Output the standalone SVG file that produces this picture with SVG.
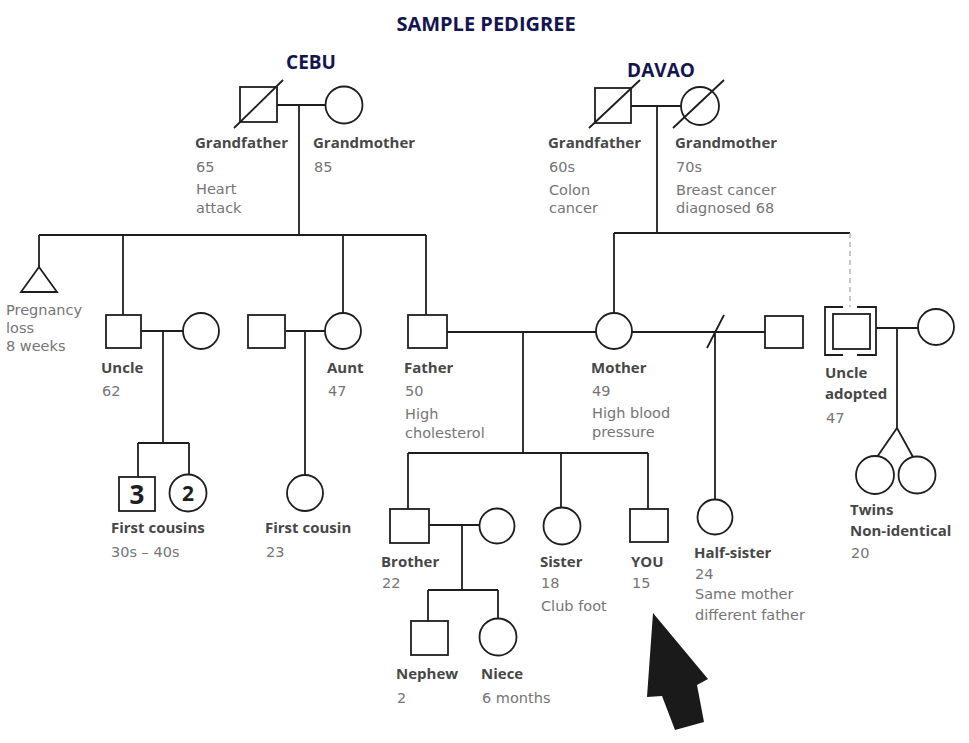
<svg xmlns="http://www.w3.org/2000/svg" width="969" height="743" viewBox="0 0 969 743">
<style>
.bg{fill:#ffffff}
.ln{fill:none;stroke:#1e1e1e;stroke-width:1.8}
.sh{fill:#ffffff;stroke:#1e1e1e;stroke-width:1.8}
.dash{fill:none;stroke:#b5b5b5;stroke-width:1.5;stroke-dasharray:5 4}
.ttl{font-family:"Open Sans","Liberation Sans",sans-serif;font-weight:700;fill:#141450;text-anchor:middle}
.lb{font-family:"Open Sans","Liberation Sans",sans-serif;font-weight:700;font-size:15px;fill:#474747}
.tx{font-family:"DejaVu Sans","Liberation Sans",sans-serif;font-size:14.5px;fill:#757575}
.num{font-family:"Open Sans","Liberation Sans",sans-serif;font-weight:700;fill:#1e1e1e;text-anchor:middle}
</style>
<rect class="bg" x="0" y="0" width="969" height="743"/>
<text class="ttl" x="486" y="31" font-size="20">SAMPLE PEDIGREE</text>
<text class="ttl" x="311" y="69" font-size="19">CEBU</text>
<text class="ttl" x="661" y="77" font-size="19">DAVAO</text>

<g id="connectors">
<path class="ln" d="M277 105H325M299 105V235M39 235H426M39 235V267M123 235V315M343 235V313M426 235V315"/>
<path class="ln" d="M141 331H183M163 331V443M138 443H189M138 443V477M189 443V475"/>
<path class="ln" d="M286 331H325M305 331V475"/>
<path class="ln" d="M631 106H681M657 106V233M614 233H850M614 233V313"/>
<path class="dash" d="M850 233V307"/>
<path class="ln" d="M447 332H596M523 332V453M408 453H648M408 453V509M561 453V508M648 453V509"/>
<path class="ln" d="M632 332H765M707 348L724 315M715 332V499"/>
<path class="ln" d="M876 328H918M897 328V428M877 457L897 428L913 457"/>
<path class="ln" d="M429 525H480M462 525V590M428 590H498M428 590V621M498 590V619"/>
</g>

<g id="cebu-grandfather">
<rect class="sh" x="240" y="87" width="37" height="35"/>
<path class="ln" d="M234 128L283 80"/>
<text class="lb" x="195" y="148">Grandfather</text>
<text class="tx" x="196" y="172">65</text>
<text class="tx" x="196" y="194">Heart</text>
<text class="tx" x="196" y="213">attack</text>
</g>
<g id="cebu-grandmother">
<circle class="sh" cx="344" cy="105" r="18.5"/>
<text class="lb" x="313" y="148">Grandmother</text>
<text class="tx" x="314" y="172">85</text>
</g>
<g id="davao-grandfather">
<rect class="sh" x="595" y="88" width="36" height="35"/>
<path class="ln" d="M589 128L640 80"/>
<text class="lb" x="548" y="148">Grandfather</text>
<text class="tx" x="549" y="172">60s</text>
<text class="tx" x="549" y="195">Colon</text>
<text class="tx" x="549" y="213">cancer</text>
</g>
<g id="davao-grandmother">
<circle class="sh" cx="700" cy="106" r="19"/>
<path class="ln" d="M673 128L724 80"/>
<text class="lb" x="675" y="148">Grandmother</text>
<text class="tx" x="676" y="172">70s</text>
<text class="tx" x="676" y="195">Breast cancer</text>
<text class="tx" x="676" y="213">diagnosed 68</text>
</g>
<g id="pregnancy-loss">
<polygon class="sh" points="39,267 21,292 57,292"/>
<text class="tx" x="6" y="315">Pregnancy</text>
<text class="tx" x="6" y="333">loss</text>
<text class="tx" x="6" y="351">8 weeks</text>
</g>
<g id="uncle">
<rect class="sh" x="106" y="315" width="35" height="33"/>
<text class="lb" x="101" y="373">Uncle</text>
<text class="tx" x="102" y="396">62</text>
</g>
<g id="uncle-wife">
<circle class="sh" cx="201" cy="331" r="18"/>
</g>
<g id="aunt-husband">
<rect class="sh" x="248" y="315" width="37" height="33"/>
</g>
<g id="aunt">
<circle class="sh" cx="343" cy="331" r="18"/>
<text class="lb" x="327" y="373">Aunt</text>
<text class="tx" x="328" y="396">47</text>
</g>
<g id="father">
<rect class="sh" x="408" y="315" width="39" height="33"/>
<text class="lb" x="404" y="373">Father</text>
<text class="tx" x="405" y="396">50</text>
<text class="tx" x="405" y="419">High</text>
<text class="tx" x="405" y="438">cholesterol</text>
</g>
<g id="mother">
<circle class="sh" cx="614" cy="331" r="18"/>
<text class="lb" x="591" y="373">Mother</text>
<text class="tx" x="592" y="396">49</text>
<text class="tx" x="592" y="418">High blood</text>
<text class="tx" x="592" y="437">pressure</text>
</g>
<g id="mother-second-husband">
<rect class="sh" x="765" y="316" width="38" height="32"/>
</g>
<g id="uncle-adopted">
<path class="ln" d="M843 307H825V355H843M857 307H876V355H857"/>
<rect class="sh" x="833" y="314" width="37" height="35"/>
<text class="lb" x="825" y="378">Uncle</text>
<text class="lb" x="825" y="399">adopted</text>
<text class="tx" x="826" y="423">47</text>
</g>
<g id="uncle-adopted-wife">
<circle class="sh" cx="936" cy="327" r="18"/>
</g>
<g id="first-cousins">
<rect class="sh" x="119" y="477" width="36" height="34"/>
<text class="num" x="137" y="504" font-size="26">3</text>
<circle class="sh" cx="188" cy="493" r="18.5"/>
<text class="num" x="188" y="501" font-size="21">2</text>
<text class="lb" x="111" y="533">First cousins</text>
<text class="tx" x="111" y="557">30s  – 40s</text>
</g>
<g id="first-cousin">
<circle class="sh" cx="305" cy="493" r="18"/>
<text class="lb" x="265" y="533">First cousin</text>
<text class="tx" x="266" y="557">23</text>
</g>
<g id="brother">
<rect class="sh" x="390" y="509" width="39" height="34"/>
<text class="lb" x="381" y="567">Brother</text>
<text class="tx" x="382" y="588">22</text>
</g>
<g id="brother-wife">
<circle class="sh" cx="497" cy="526" r="17.5"/>
</g>
<g id="sister">
<circle class="sh" cx="562" cy="526" r="18.5"/>
<text class="lb" x="540" y="567">Sister</text>
<text class="tx" x="541" y="588">18</text>
<text class="tx" x="541" y="611">Club foot</text>
</g>
<g id="you">
<rect class="sh" x="630" y="509" width="38" height="33"/>
<text class="lb" x="631" y="567">YOU</text>
<text class="tx" x="632" y="588">15</text>
</g>
<g id="half-sister">
<circle class="sh" cx="715" cy="517" r="17.5"/>
<text class="lb" x="694" y="558">Half-sister</text>
<text class="tx" x="695" y="579">24</text>
<text class="tx" x="695" y="599">Same mother</text>
<text class="tx" x="695" y="620">different father</text>
</g>
<g id="twins">
<circle class="sh" cx="875" cy="475" r="19"/>
<circle class="sh" cx="917" cy="475" r="18.5"/>
<text class="lb" x="850" y="515">Twins</text>
<text class="lb" x="850" y="536">Non-identical</text>
<text class="tx" x="851" y="558">20</text>
</g>
<g id="nephew">
<rect class="sh" x="411" y="621" width="37" height="34"/>
<text class="lb" x="396" y="679">Nephew</text>
<text class="tx" x="397" y="703">2</text>
</g>
<g id="niece">
<circle class="sh" cx="498" cy="637" r="18.5"/>
<text class="lb" x="481" y="679">Niece</text>
<text class="tx" x="482" y="703">6 months</text>
</g>
<g id="pointer-arrow">
<polygon points="653,613 708,679 697,685 704,722 675,730 662,696 647,697" fill="#1a1a1a"/>
</g>
</svg>
